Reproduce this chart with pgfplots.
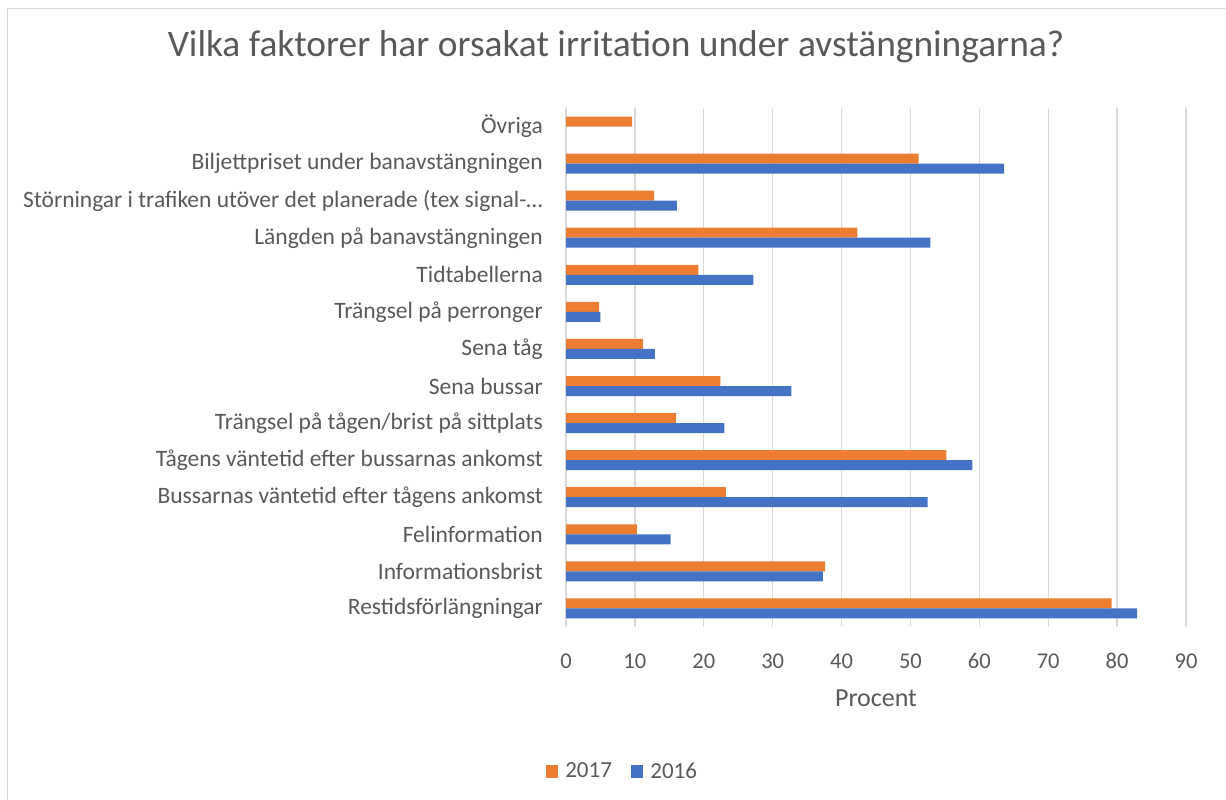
\documentclass[border=0pt]{standalone}
\usepackage{pgfplots}
\pgfplotsset{compat=1.18}
\usepackage{fontspec}
\setmainfont{Carlito}
\definecolor{cOr}{HTML}{ED7D31}
\definecolor{cBl}{HTML}{4472C4}
\definecolor{cTx}{HTML}{595959}
\definecolor{cGr}{HTML}{D9D9D9}
\begin{document}
\begin{tikzpicture}[x=1pt,y=1pt]
\path[use as bounding box] (0,0) rectangle (1226,800);
\draw[cGr, line width=1.2pt] (7.7,0) -- (7.7,791.5) -- (1226,791.5);
\begin{axis}[
  at={(566pt,173pt)}, anchor=south west,
  scale only axis, width=620pt, height=519pt,
  xbar, bar width=10pt,
  xmin=0, xmax=90, ymin=-0.5, ymax=13.5,
  xtick={0,10,...,90},
  ytick={0,...,13},
  yticklabels={Restidsförlängningar, Informationsbrist\ , Felinformation, Bussarnas väntetid efter tågens ankomst\ , Tågens väntetid efter bussarnas ankomst, Trängsel på tågen/brist på sittplats, Sena bussar, Sena tåg, Trängsel på perronger, Tidtabellerna, Längden på banavstängningen, Störningar i trafiken utöver det planerade (tex signal-…, Biljettpriset under banavstängningen, Övriga},
  axis line style={draw=none},
  major tick length=0pt,
  xmajorgrids, grid style={cGr, line width=1.3pt},
  /pgf/number format/assume math mode=true,
  ticklabel style={font=\fontsize{22.5}{26}\selectfont, text=cTx},
  xticklabel style={anchor=center, yshift=-34pt},
  yticklabel style={font=\fontsize{23.5}{27}\selectfont, anchor=east, inner sep=0pt, xshift=-23pt},
  xlabel={Procent},
  xlabel style={font=\fontsize{26}{30}\selectfont, text=cTx, at={(axis description cs:0.5,-0.1368)}, anchor=center},
  title={Vilka faktorer har orsakat irritation under avstängningarna?},
  title style={font=\fontsize{37.4}{44}\selectfont, text=cTx, at={(axis description cs:0.0806,1.0877)}, anchor=base},
  legend style={at={(axis description cs:0.0894,-0.2775)}, anchor=center, draw=none, fill=none,
    font=\fontsize{23}{27}\selectfont, text=cTx, legend columns=-1,
    nodes={inner sep=0pt},
    /tikz/every even column/.append style={column sep=19pt}},
  legend image code/.code={\fill[#1] (0pt,-6.5pt) rectangle (12.5pt,6.5pt);},
]
\addplot[draw=none, fill=cOr, bar shift=5pt] coordinates {
(79.2,0) (37.6,1) (10.3,2) (23.2,3) (55.2,4) (16.0,5) (22.4,6) (11.2,7) (4.8,8) (19.2,9) (42.3,10) (12.8,11) (51.2,12) (9.6,13)};
\addlegendentry{\hspace{7pt}2017}
\addplot[draw=none, fill=cBl, bar shift=-5pt] coordinates {
(82.9,0) (37.3,1) (15.2,2) (52.5,3) (59.0,4) (23.0,5) (32.7,6) (12.9,7) (5.0,8) (27.2,9) (52.9,10) (16.1,11) (63.6,12)};
\addlegendentry{\hspace{7pt}2016}
\end{axis}
\end{tikzpicture}
\end{document}
